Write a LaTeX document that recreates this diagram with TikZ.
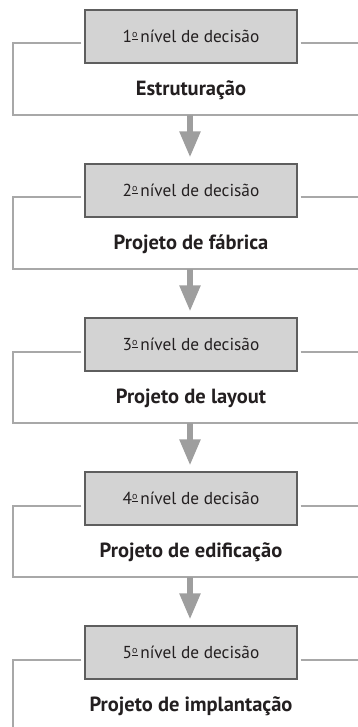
\documentclass[tikz,border=0pt]{standalone}
\usepackage{fontspec}
\setmainfont{PT Sans}
\usetikzlibrary{arrows.meta}
\definecolor{frameg}{HTML}{A8A8A8}
\definecolor{arrowg}{HTML}{9E9E9E}
\definecolor{boxline}{HTML}{5E5E5E}
\definecolor{boxfill}{HTML}{D3D3D3}
\definecolor{textc}{HTML}{231F20}
\newcommand\ordsup{\raisebox{0.62ex}{\fontsize{10}{10}\selectfont\underline{o}}}
\begin{document}
\begin{tikzpicture}[x=1pt,y=-1pt,
  levelbox/.style={draw=boxline, fill=boxfill, line width=1.3pt, minimum width=212pt, minimum height=53pt, inner sep=0pt, text=textc, font=\fontsize{17.3}{19}\selectfont},
  titletext/.style={inner sep=0pt, text=textc, font=\bfseries\fontsize{20.5}{23}\selectfont},
  frameline/.style={draw=frameg, line width=2pt},
  flowarrow/.style={draw=arrowg, line width=5.5pt, -{Triangle[width=20pt,length=26pt]}, fill=arrowg, shorten >=6pt}]
\useasboundingbox (0,0) rectangle (358,727);
\foreach \i/\lbl in {1/Estruturação, 2/Projeto de fábrica, 3/Projeto de layout, 4/Projeto de edificação, 5/Projeto de implantação}{
  \pgfmathsetmacro\top{10+154*(\i-1)}
  \pgfmathsetmacro\boxc{\top+26.5}
  \pgfmathsetmacro\liney{\top+33.5}
  \pgfmathsetmacro\texty{\top+80.5}
  \pgfmathsetmacro\bot{\i==5 ? 727 : \top+105}
  \node[levelbox] (b\i) at (191,\boxc) {\i\ordsup\,nível de decisão};
  \node[titletext] (t\i) at (191,\texty) {\lbl};
  \coordinate (L\i) at (13,\liney);
  \coordinate (R\i) at (358,\liney);
  \coordinate (BL\i) at (13,\bot);
  \coordinate (BR\i) at (358,\bot);
  \ifnum\i<5
    \draw[frameline, shorten <=3pt] (b\i.west |- L\i) -- (L\i) -- (BL\i) -- (BR\i);
  \else
    \draw[frameline, shorten <=3pt] (b\i.west |- L\i) -- (L\i) -- (BL\i);
  \fi
  \draw[frameline, shorten <=3pt] (b\i.east |- R\i) -- (R\i);
}
\foreach \i in {1,2,3,4}{
  \pgfmathtruncatemacro\nxt{\i+1}
  \draw[flowarrow] (190,0 |- BL\i) -- (190,0 |- b\nxt.north);
}
\end{tikzpicture}
\end{document}
